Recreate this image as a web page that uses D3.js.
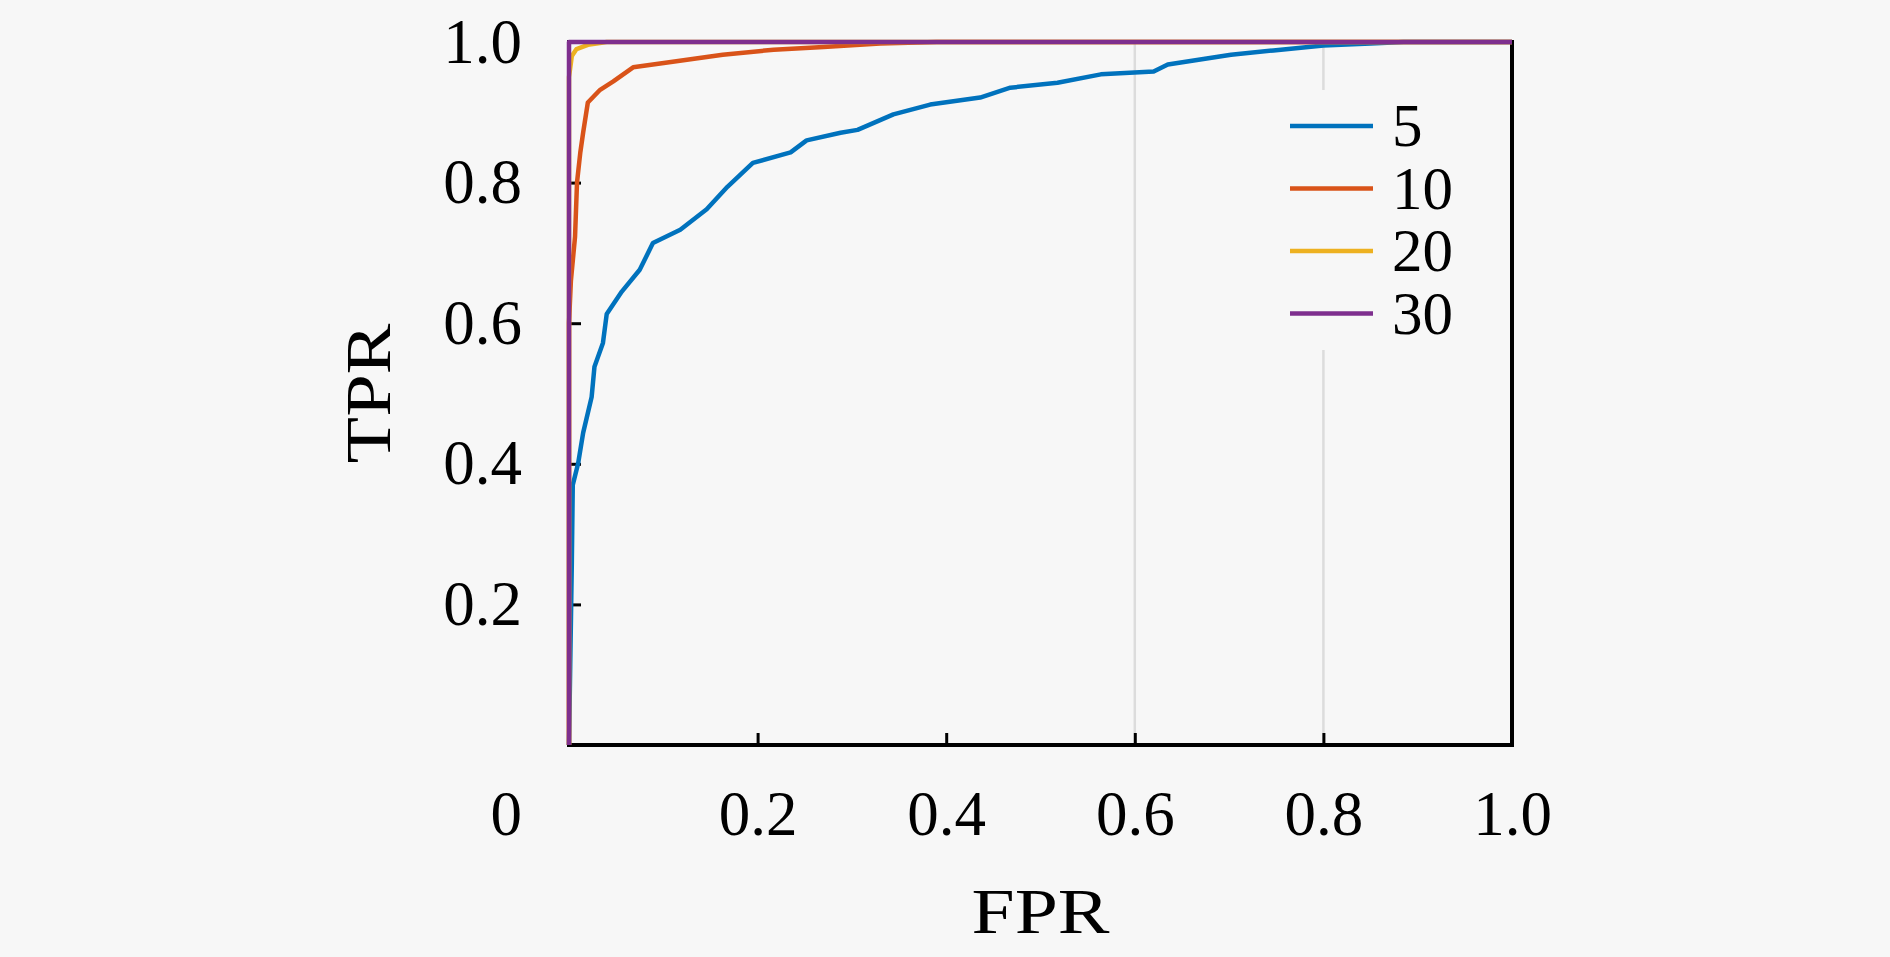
<!DOCTYPE html>
<html lang="en">
<head>
    <meta charset="UTF-8">
    <title>ROC curves</title>
    <script src="https://d3js.org/d3.v7.min.js"></script>
    <style>
        body { margin: 0; background-color: #f7f7f7; overflow: hidden; }
        text { font-family: "Liberation Serif", "Times New Roman", serif; fill: #000; }
    </style>
</head>
<body>
    <div id="chart"></div>
    <script>
        // data
        const seriesNames = ["5", "10", "20", "30"];
        const seriesColors = ["#0072BD", "#D95319", "#EDB120", "#7E2F8E"];

        const fpr5 = [0, 0.003, 0.004, 0.0096, 0.015, 0.024, 0.027, 0.036, 0.040, 0.056, 0.075, 0.089, 0.118, 0.146, 0.168, 0.195, 0.235, 0.252, 0.288, 0.306, 0.344, 0.383, 0.436, 0.468, 0.518, 0.564, 0.620, 0.635, 0.702, 0.747, 0.80, 0.85, 0.885, 1.0];
        const tpr5 = [0, 0.26, 0.37, 0.40, 0.444, 0.495, 0.538, 0.572, 0.613, 0.645, 0.676, 0.714, 0.733, 0.762, 0.794, 0.828, 0.843, 0.860, 0.871, 0.875, 0.897, 0.911, 0.921, 0.935, 0.942, 0.954, 0.958, 0.968, 0.982, 0.988, 0.995, 0.998, 1.0, 1.0];

        const fpr10 = [0, 0, 0.002, 0.0064, 0.0085, 0.012, 0.015, 0.020, 0.033, 0.047, 0.068, 0.110, 0.163, 0.217, 0.270, 0.33, 0.39, 1.0];
        const tpr10 = [0, 0.60, 0.66, 0.723, 0.80, 0.843, 0.871, 0.914, 0.932, 0.944, 0.964, 0.972, 0.982, 0.989, 0.993, 0.998, 1.0, 1.0];

        const fpr20 = [0, 0, 0.003, 0.008, 0.02, 0.04, 1.0];
        const tpr20 = [0, 0.95, 0.98, 0.99, 0.996, 1.0, 1.0];

        const fpr30 = [0, 0, 1.0];
        const tpr30 = [0, 1.0, 1.0];

        const xTicks = [0.2, 0.4, 0.6, 0.8, 1.0];
        const yTicks = [0.2, 0.4, 0.6, 0.8, 1.0];
        const gridX = [0.6, 0.8];

        const width = 1890, height = 957;
        const margin = { top: 42, right: 378, bottom: 212, left: 569 };
        const fontSize = 63;

        const svg = d3.select("#chart").append("svg")
            .attr("width", width)
            .attr("height", height);

        const xScale = d3.scaleLinear().domain([0, 1]).range([margin.left, width - margin.right]);
        const yScale = d3.scaleLinear().domain([0, 1]).range([height - margin.bottom, margin.top]);

        // faint vertical grid lines
        svg.selectAll(".grid")
            .data(gridX)
            .enter().append("line")
            .attr("class", "grid")
            .attr("x1", d => xScale(d)).attr("x2", d => xScale(d))
            .attr("y1", yScale(1)).attr("y2", yScale(0))
            .attr("stroke", "#dcdcdc")
            .attr("stroke-width", 2.5);

        // axes, ticks pointing inward
        const xAxis = svg.append("g")
            .attr("transform", `translate(0, ${yScale(0)})`)
            .call(d3.axisBottom(xScale).tickValues(xTicks).tickSizeInner(-12).tickSizeOuter(0)
                .tickPadding(45).tickFormat(d3.format(".1f")));

        const yAxis = svg.append("g")
            .attr("transform", `translate(${xScale(0)}, 0)`)
            .call(d3.axisLeft(yScale).tickValues(yTicks).tickSizeInner(-12).tickSizeOuter(0)
                .tickPadding(47).tickFormat(d3.format(".1f")));

        [xAxis, yAxis].forEach(g => {
            g.select(".domain").remove();
            g.selectAll(".tick line").attr("stroke", "#000").attr("stroke-width", 3);
            g.selectAll(".tick text").style("font-size", fontSize + "px").attr("fill", "#000");
        });

        // shared origin label, on the x tick label row
        svg.append("text")
            .attr("x", xScale(0) - 47)
            .attr("y", yScale(0) + 45)
            .attr("dy", "0.71em")
            .attr("text-anchor", "end")
            .style("font-size", fontSize + "px")
            .text("0");

        // frame
        svg.append("rect")
            .attr("x", xScale(0)).attr("y", yScale(1))
            .attr("width", xScale(1) - xScale(0))
            .attr("height", yScale(0) - yScale(1))
            .attr("fill", "none")
            .attr("stroke", "#000")
            .attr("stroke-width", 4);

        // curves
        const curves = [[fpr5, tpr5], [fpr10, tpr10], [fpr20, tpr20], [fpr30, tpr30]].map((s, i) => ({
            name: seriesNames[i],
            color: seriesColors[i],
            values: s[0].map((x, j) => ({ x: x, y: s[1][j] }))
        }));

        const line = d3.line()
            .x(d => xScale(d.x))
            .y(d => yScale(d.y));

        svg.selectAll(".curve")
            .data(curves)
            .enter().append("path")
            .attr("class", "curve")
            .attr("d", d => line(d.values))
            .attr("fill", "none")
            .attr("stroke", d => d.color)
            .attr("stroke-width", 4.5)
            .attr("stroke-linejoin", "round");

        // axis titles
        svg.append("text")
            .attr("x", (xScale(0) + xScale(1)) / 2)
            .attr("y", 933)
            .attr("text-anchor", "middle")
            .attr("textLength", 138)
            .attr("lengthAdjust", "spacingAndGlyphs")
            .style("font-size", fontSize + "px")
            .text("FPR");

        svg.append("text")
            .attr("transform", `translate(390, ${(yScale(0) + yScale(1)) / 2}) rotate(-90)`)
            .attr("text-anchor", "middle")
            .attr("textLength", 140)
            .attr("lengthAdjust", "spacingAndGlyphs")
            .style("font-size", fontSize + "px")
            .text("TPR");

        // legend
        const legend = svg.append("g").attr("transform", "translate(1278, 90)");
        legend.append("rect")
            .attr("width", 195).attr("height", 260)
            .attr("fill", "#f7f7f7");

        const item = legend.selectAll(".legend")
            .data(curves)
            .enter().append("g")
            .attr("class", "legend")
            .attr("transform", (d, i) => `translate(0, ${36 + i * 62.5})`);

        item.append("line")
            .attr("x1", 12).attr("x2", 95)
            .attr("stroke", d => d.color)
            .attr("stroke-width", 4.5);

        item.append("text")
            .attr("x", 114)
            .attr("y", 20)
            .style("font-size", "61px")
            .text(d => d.name);
    </script>
</body>
</html>
